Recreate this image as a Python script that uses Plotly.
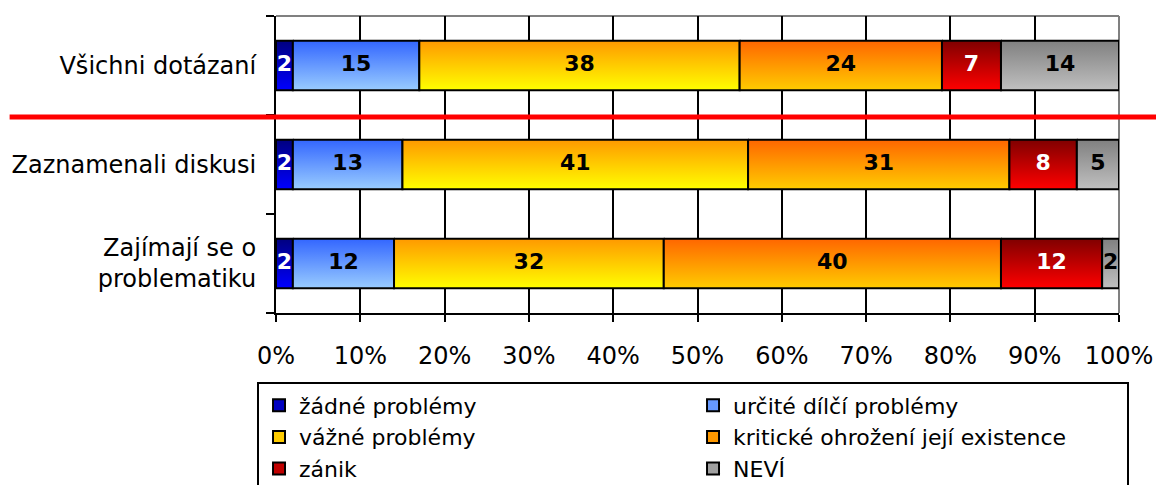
import plotly.graph_objects as go

categories = ["Všichni dotázaní", "Zaznamenali diskusi", "Zajímají se o<br>problematiku"]
series_names = ["žádné problémy", "určité dílčí problémy", "vážné problémy",
                "kritické ohrožení její existence", "zánik", "NEVÍ"]
values = [
    [2, 2, 2],      # žádné problémy
    [15, 13, 12],   # určité dílčí problémy
    [38, 41, 32],   # vážné problémy
    [24, 31, 40],   # kritické ohrožení
    [7, 8, 12],     # zánik
    [14, 5, 2],     # NEVÍ
]
x_ticks = [0, 0.1, 0.2, 0.3, 0.4, 0.5, 0.6, 0.7, 0.8, 0.9, 1.0]

top_colors = ["#000080", "#3366FF", "#FF9900", "#FF6600", "#800000", "#808080"]
bottom_colors = ["#0000FF", "#99CCFF", "#FFFF00", "#FFCC00", "#FF0000", "#C0C0C0"]
mid_colors = ["#0000C0", "#6699FF", "#FFCC00", "#FF9900", "#C00000", "#A0A0A0"]
text_colors = ["white", "black", "black", "black", "white", "black"]

FONT = "Verdana, DejaVu Sans, sans-serif"
BAR_W = 0.5
ypos = list(range(len(categories)))

fig = go.Figure()

# stacked bars (legend + base)
for s, name in enumerate(series_names):
    fig.add_trace(go.Bar(
        y=ypos, x=[v / 100 for v in values[s]], orientation="h", name=name,
        width=BAR_W,
        marker=dict(color=mid_colors[s], line=dict(color="black", width=2)),
        hoverinfo="skip",
    ))

# gradient overlays computed from the same data
cum = [0] * len(categories)
for s, name in enumerate(series_names):
    for c in range(len(categories)):
        x0 = cum[c] / 100
        x1 = (cum[c] + values[s][c]) / 100
        y0 = c - BAR_W / 2
        y1 = c + BAR_W / 2
        fig.add_trace(go.Scatter(
            x=[x0, x1, x1, x0, x0], y=[y0, y0, y1, y1, y0],
            mode="lines", fill="toself",
            fillgradient=dict(type="vertical",
                              colorscale=[[0, bottom_colors[s]], [1, top_colors[s]]]),
            line=dict(color="black", width=2),
            showlegend=False, hoverinfo="skip",
        ))
    # value labels
    fig.add_trace(go.Scatter(
        x=[(cum[c] + values[s][c] / 2) / 100 for c in range(len(categories))],
        y=ypos, mode="text",
        text=[str(v) for v in values[s]],
        textfont=dict(family=FONT, size=22, color=text_colors[s], weight="bold"),
        showlegend=False, hoverinfo="skip",
    ))
    cum = [cum[c] + values[s][c] for c in range(len(categories))]

fig.update_layout(
    width=1156, height=485,
    margin=dict(l=276, r=37, t=16, b=172, autoexpand=False),
    plot_bgcolor="white", paper_bgcolor="white",
    barmode="stack",
    font=dict(family=FONT, size=24, color="black"),
    showlegend=True,
    legend=dict(
        orientation="h", x=-0.0225, xanchor="left", y=-0.234, yanchor="top",
        entrywidth=389, entrywidthmode="pixels",
        bordercolor="black", borderwidth=2,
        font=dict(family=FONT, size=22, color="black"),
        traceorder="normal",
    ),
    xaxis=dict(
        range=[0, 1], tickvals=x_ticks, tickformat=".0%",
        showgrid=True, gridcolor="black", gridwidth=2,
        showline=True, linecolor="black", linewidth=2,
        ticks="outside", ticklen=7, tickwidth=2, tickcolor="black",
        ticklabelstandoff=13, zeroline=False,
        tickfont=dict(size=24),
    ),
    yaxis=dict(
        range=[2.5, -0.5], tickvals=ypos, ticktext=categories,
        showgrid=False, zeroline=False,
        showline=True, linecolor="black", linewidth=2,
        ticks="", ticklabelstandoff=13,
        minor=dict(tickmode="array", tickvals=[-0.5, 0.5, 1.5, 2.5],
                   ticks="outside", ticklen=8, tickwidth=2, tickcolor="black",
                   showgrid=False),
        tickfont=dict(size=24),
    ),
    shapes=[
        dict(type="line", xref="paper", yref="paper", x0=0, x1=1, y0=1, y1=1,
             line=dict(color="#808080", width=2), layer="between"),
        dict(type="line", xref="paper", yref="paper", x0=1, x1=1, y0=0, y1=1,
             line=dict(color="#808080", width=2), layer="between"),
        dict(type="line", xref="paper", yref="y", x0=-0.316, x1=1.1, y0=0.52, y1=0.52,
             line=dict(color="#FF0000", width=5), layer="above"),
    ],
)

fig.write_html("out.html", config={"displayModeBar": False},
               post_script="document.body.style.margin='0';")
